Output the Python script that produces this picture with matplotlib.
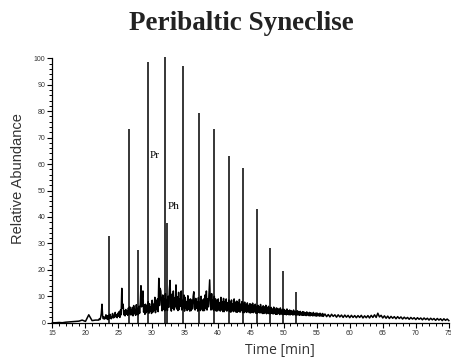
from matplotlib import pyplot as plt
from matplotlib.ticker import MultipleLocator
import numpy as np

# n-alkane peaks (time in min, relative abundance)
peak_t = [23.6, 26.6, 27.9, 29.5, 32.1, 32.3, 34.7, 37.2, 39.5, 41.8, 43.9, 46.0, 48.0, 49.9, 51.8]
peak_h = [32.8, 73.1, 27.5, 98.6, 100.5, 37.8, 97.1, 79.4, 73.4, 63.0, 58.6, 42.9, 28.1, 19.5, 11.5]

# early baseline, 15.0 - 21.5 min, every 0.5 min
early_bg = [0, 0, 0.1, 0, 0.2, 0.3, 0.4, 0.5, 0.6, 1.0, 0.5, 3.0, 0.8, 1.0]

# busy hump, 22.0 - 55.9 min, every 0.1 min
hump_bg = [
    1.0, 1.5, 1.2, 2.0, 3.5, 7.0, 2.5, 1.5, 2.2, 1.4,
    1.8, 3.0, 1.5, 2.6, 1.2, 2.8, 1.6, 3.2, 2.0, 1.5,
    2.2, 3.5, 1.8, 2.8, 2.0, 3.9, 2.4, 3.0, 1.9, 3.6,
    2.5, 4.2, 2.0, 4.8, 3.0, 13.0, 5.5, 7.0, 3.0, 4.5,
    2.6, 5.0, 3.2, 4.6, 2.8, 5.6, 3.5, 6.0, 3.0, 4.8,
    3.0, 5.8, 2.6, 6.5, 3.4, 5.0, 2.8, 6.8, 3.2, 5.5,
    3.0, 6.2, 3.6, 7.5, 14.0, 6.0, 9.5, 12.0, 4.0, 6.8,
    3.2, 7.0, 3.8, 6.4, 4.2, 8.0, 3.6, 7.2, 4.4, 6.0,
    3.5, 8.5, 4.0, 7.0, 4.6, 9.6, 3.8, 8.2, 5.0, 9.0,
    4.2, 16.8, 6.5, 13.0, 12.0, 7.5, 4.5, 10.5, 5.0, 9.0,
    4.5, 11.0, 5.2, 8.8, 4.6, 10.0, 5.8, 12.5, 16.0, 7.0,
    4.4, 10.8, 5.5, 12.0, 4.8, 9.5, 6.0, 14.3, 5.2, 9.8,
    4.6, 11.5, 5.0, 9.0, 6.2, 12.0, 4.8, 8.5, 5.6, 10.5,
    4.4, 9.6, 5.4, 8.0, 4.6, 10.2, 5.0, 8.8, 4.4, 9.0,
    4.6, 8.5, 5.2, 10.0, 11.7, 6.0, 4.8, 9.2, 5.5, 8.0,
    4.4, 9.5, 5.0, 7.8, 4.6, 10.0, 5.2, 8.6, 4.5, 9.0,
    4.6, 10.5, 5.4, 12.0, 4.8, 9.0, 6.0, 11.0, 16.2, 7.0,
    4.8, 11.0, 5.2, 8.5, 4.6, 10.0, 5.0, 9.0, 4.4, 8.2,
    4.5, 9.0, 5.0, 7.6, 4.4, 9.6, 4.8, 8.0, 4.2, 9.2,
    4.2, 8.0, 4.8, 9.0, 4.4, 7.5, 5.0, 8.6, 4.2, 7.8,
    4.0, 8.6, 4.6, 7.2, 4.2, 9.0, 4.5, 7.8, 4.0, 8.2,
    4.0, 7.6, 4.4, 8.8, 4.0, 7.0, 4.6, 8.0, 3.8, 7.4,
    3.8, 7.8, 4.2, 6.8, 3.9, 7.5, 4.3, 6.6, 3.8, 7.2,
    3.7, 6.8, 4.0, 7.4, 3.8, 6.5, 4.1, 7.0, 3.6, 6.2,
    3.6, 6.6, 3.9, 6.0, 3.7, 6.9, 3.8, 5.8, 3.5, 6.4,
    3.5, 6.0, 3.8, 6.6, 3.4, 5.6, 3.7, 6.2, 3.4, 5.5,
    3.4, 5.8, 3.6, 5.2, 3.3, 5.9, 3.5, 5.0, 3.2, 5.6,
    3.2, 5.4, 3.5, 5.0, 3.1, 5.6, 3.4, 4.8, 3.1, 5.2,
    3.1, 5.0, 3.3, 4.6, 3.0, 5.2, 3.2, 4.5, 3.0, 4.8,
    3.0, 4.6, 3.2, 4.3, 2.9, 4.8, 3.1, 4.2, 2.9, 4.4,
    2.9, 4.5, 3.0, 4.0, 2.8, 4.3, 3.0, 3.9, 2.8, 4.2,
    2.8, 4.0, 2.9, 3.8, 2.7, 4.1, 2.9, 3.6, 2.7, 3.9,
    2.6, 3.8, 2.8, 3.5, 2.6, 3.9, 2.7, 3.4, 2.6, 3.7,
    2.5, 3.6, 2.7, 3.3, 2.5, 3.6, 2.6, 3.2, 2.5, 3.5,
]

# tail, 56.0 - 75.0 min, every 0.25 min
tail_bg = [
    2.4, 3.3, 2.3, 3.1,
    2.2, 3.2, 2.4, 3.0,
    2.1, 3.0, 2.2, 2.9,
    2.0, 2.9, 2.1, 2.8,
    1.9, 2.8, 2.0, 2.7,
    1.9, 2.7, 2.0, 2.8,
    1.8, 2.6, 1.9, 2.7,
    1.8, 2.8, 2.0, 3.0,
    2.0, 3.6, 2.2, 2.8,
    1.8, 2.6, 1.7, 2.5,
    1.6, 2.4, 1.7, 2.3,
    1.5, 2.3, 1.6, 2.2,
    1.4, 2.1, 1.5, 2.0,
    1.3, 2.0, 1.4, 1.9,
    1.2, 1.9, 1.3, 1.8,
    1.1, 1.8, 1.2, 1.7,
    1.0, 1.7, 1.1, 1.6,
    0.9, 1.6, 1.0, 1.5,
    0.8, 1.5, 0.9, 1.4,
    0.8,
]

labels = ["Pr", "Ph"]
label_t = [29.7, 32.4]
label_y = [63.4, 43.9]

t_bg = np.concatenate([
    np.linspace(15.0, 21.5, len(early_bg)),
    np.linspace(22.0, 55.9, len(hump_bg)),
    np.linspace(56.0, 75.0, len(tail_bg)),
])
y_bg = np.concatenate([early_bg, hump_bg, tail_bg])

fig = plt.figure(figsize=(4.52, 3.61), dpi=100)
ax = fig.add_axes([0.116, 0.106, 0.877, 0.7325])

ax.plot(t_bg, y_bg, color='black', lw=1.1, clip_on=False)
ax.vlines(peak_t, 0, peak_h, color='black', lw=1.1, clip_on=False)

for lab, x, y in zip(labels, label_t, label_y):
    ax.text(x, y, lab, family='Liberation Serif', fontsize=8, va='center', ha='left')

ax.set_xlim(15, 75)
ax.set_ylim(0, 100)
ax.xaxis.set_major_locator(MultipleLocator(5))
ax.xaxis.set_minor_locator(MultipleLocator(1))
ax.yaxis.set_major_locator(MultipleLocator(10))
ax.yaxis.set_minor_locator(MultipleLocator(2))
ax.tick_params(which='major', length=3.5, width=0.8, labelsize=5, labelcolor='#333333', pad=1.5)
ax.tick_params(which='minor', length=2, width=0.7)
for lbl in ax.get_xticklabels() + ax.get_yticklabels():
    lbl.set_family('Liberation Sans')

for s in ['top', 'right']:
    ax.spines[s].set_visible(False)
for s in ['left', 'bottom']:
    ax.spines[s].set_linewidth(0.9)

fig.text(0.619, 0.028, "Time [min]", family='Open Sans', fontsize=10, color='#333333',
         ha='center', va='center')
fig.text(0.040, 0.505, "Relative Abundance", family='Liberation Sans', fontsize=10.5, color='#333333',
         ha='center', va='center', rotation=90)

fig.text(0.535, 0.935, "Peribaltic Syneclise", family='Liberation Serif', fontweight='bold',
         fontsize=19.5, ha='center', va='center', color='#222222')

fig.savefig('out.png', dpi=100)
